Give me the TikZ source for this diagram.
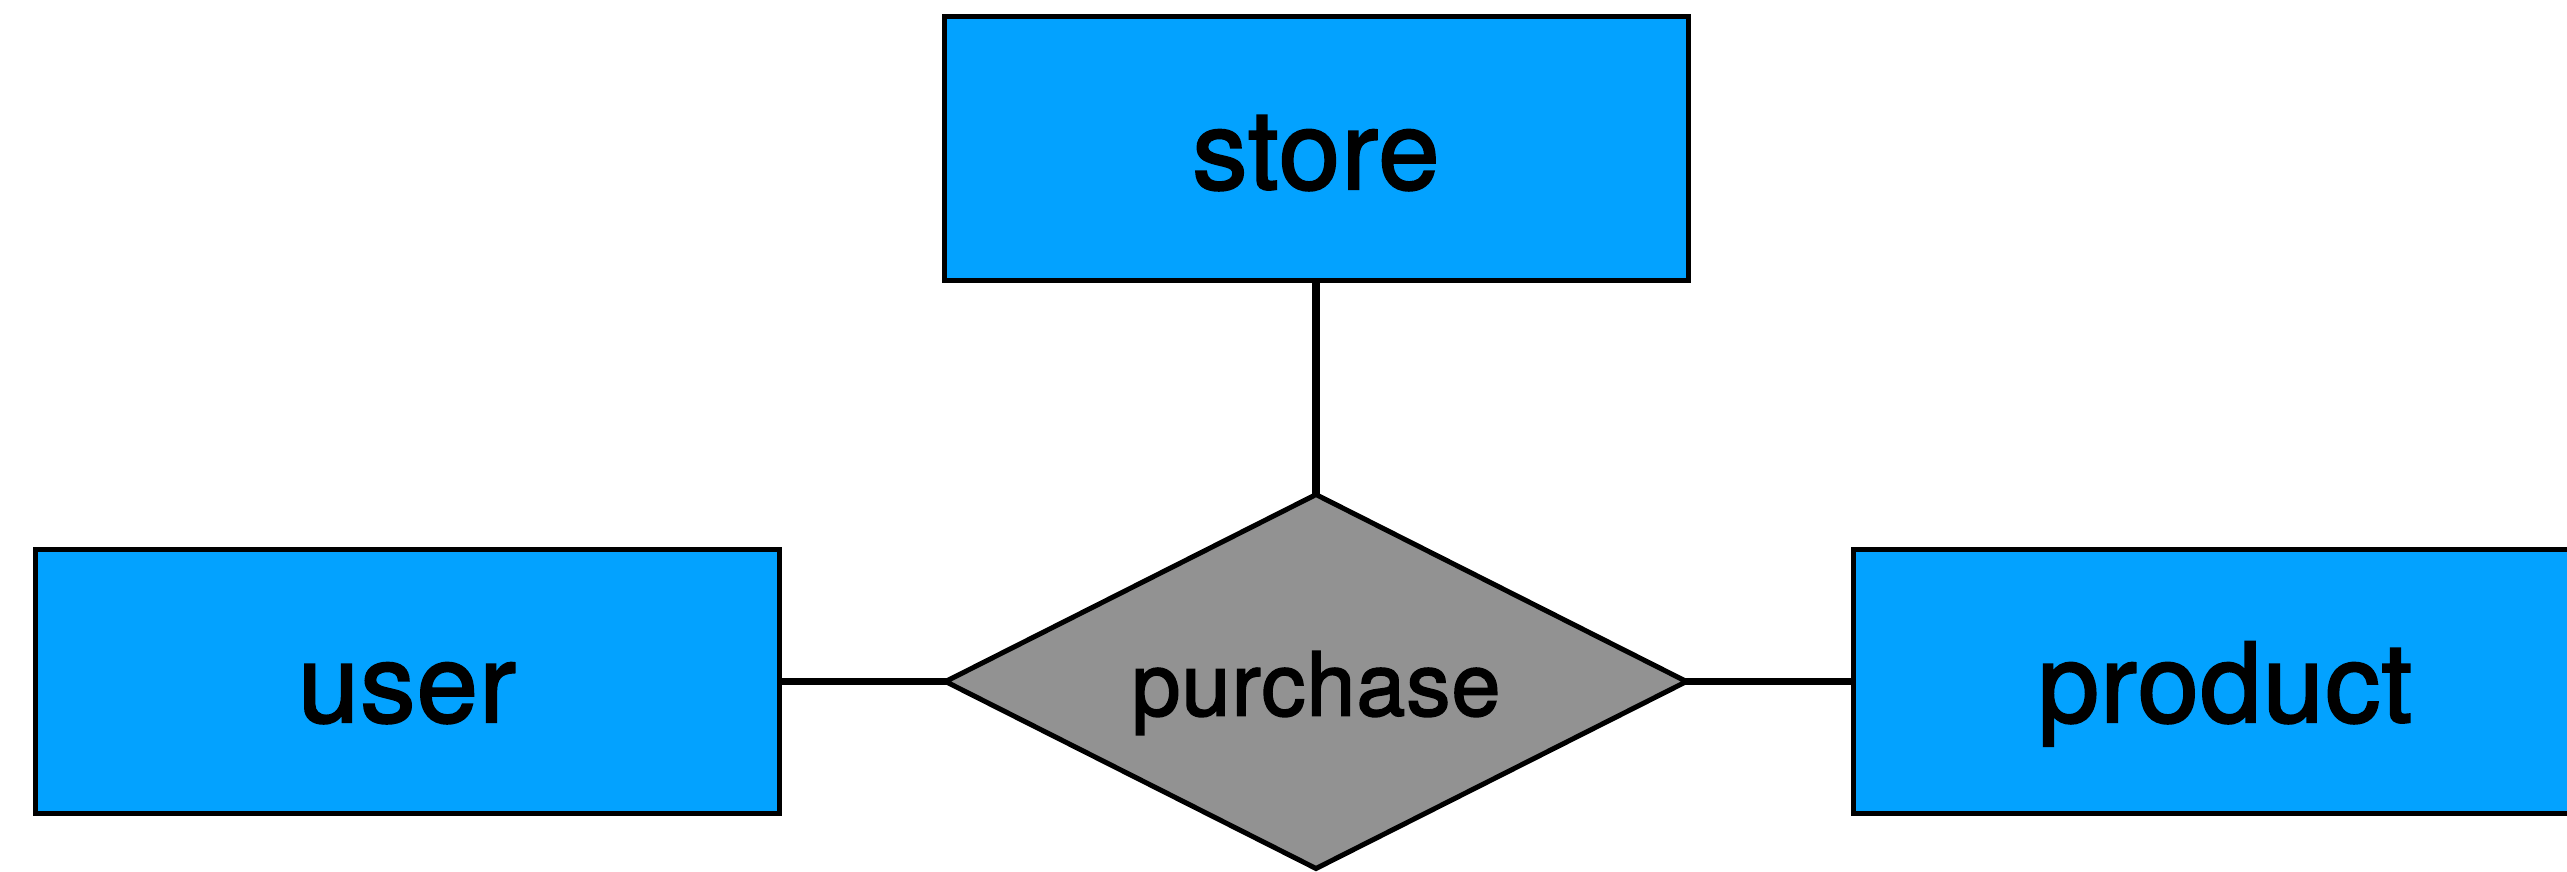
\documentclass[tikz,border=0pt]{standalone}
\usepackage{fontspec}
\setmainfont{TeX Gyre Heros}
\newfontfamily\erfont{TeX Gyre Heros}[FakeBold=2, LetterSpace=1.2]
\usetikzlibrary{shapes.geometric,backgrounds}
\definecolor{entblue}{RGB}{3,162,255}
\definecolor{relgray}{RGB}{146,146,146}
\tikzset{
  entity/.style={draw=black, line width=1.25pt, fill=entblue, rectangle,
    minimum width=186pt, minimum height=66pt, inner sep=0pt,
    text height=20.25pt, text depth=0pt,
    font=\erfont\fontsize{27.5}{32}\selectfont},
  relation/.style={draw=black, line width=1.25pt, fill=relgray, diamond,
    aspect=1.98, minimum width=185.75pt, minimum height=94pt, inner sep=0pt,
    text height=17pt, text depth=0pt,
    font=\erfont\fontsize{22}{26}\selectfont},
  link/.style={draw=black, line width=1.9pt}
}
\begin{document}
\begin{tikzpicture}[x=0.25pt, y=-0.25pt]
\useasboundingbox (0,0) rectangle (2567,871);
\clip (0,0) rectangle (2567,871);
\node[entity] (store) at (1316,148.5) {store};
\node[entity] (user) at (407,681.5) {user};
\node[entity] (product) at (2225,681.5) {product};
\node[relation] (purchase) at (1316,681.5) {purchase};
\begin{pgfonlayer}{background}
\draw[link] (store.center) -- (purchase.center);
\draw[link] (user.center) -- (purchase.center);
\draw[link] (purchase.center) -- (product.center);
\end{pgfonlayer}
\end{tikzpicture}
\end{document}
